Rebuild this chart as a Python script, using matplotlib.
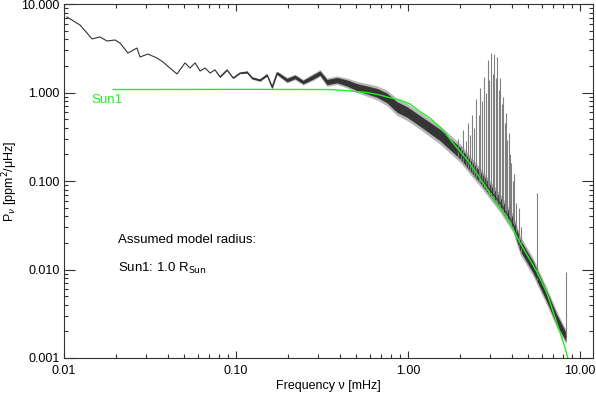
import numpy as np
import matplotlib
matplotlib.use("Agg")
import matplotlib.pyplot as plt
from matplotlib.ticker import LogLocator, FuncFormatter, NullFormatter

plt.rcParams['font.family'] = ['Liberation Sans', 'DejaVu Sans']

spec_freq = [0.01041, 0.01239, 0.01361, 0.01456, 0.01619, 0.01778, 0.01982, 0.02118,
             0.02355, 0.02655, 0.02767, 0.03077, 0.03474, 0.03766, 0.0413, 0.0454,
             0.0505, 0.0540, 0.0578, 0.0618, 0.0661, 0.0707, 0.0755, 0.0807, 0.0887,
             0.0962, 0.1055, 0.1159, 0.1239, 0.1379, 0.1515, 0.1620, 0.1731, 0.198,
             0.2204, 0.2455, 0.2808, 0.3079, 0.338, 0.3864, 0.4416, 0.505, 0.578,
             0.661, 0.755, 0.863, 0.987, 1.175, 1.536, 2.006, 2.62, 3.43, 4.07,
             4.48, 5.33, 6.43, 7.34, 8.29]
spec_power = [7.13, 5.79, 4.70, 4.03, 4.24, 3.82, 3.92, 3.62,
              2.79, 3.18, 2.52, 2.72, 2.45, 2.21, 1.89, 1.62,
              2.16, 1.89, 2.16, 1.75, 1.89, 1.66, 1.80, 1.50, 1.80,
              1.46, 1.66, 1.70, 1.46, 1.38, 1.58, 1.15, 1.66, 1.38,
              1.50, 1.31, 1.50, 1.66, 1.31, 1.38, 1.28, 1.15, 1.07,
              0.99, 0.867, 0.686, 0.602, 0.477, 0.331, 0.207, 0.111, 0.0564, 0.0335,
              0.0189, 0.0107, 0.00489, 0.00269, 0.00173]
# scatter of the noisy spectrum around the centre (dex)
spec_scatter = [0.0, 0.0, 0.0, 0.0, 0.0, 0.0, 0.0, 0.0,
                0.0, 0.0, 0.0, 0.0, 0.0, 0.0, 0.0, 0.0,
                0.0, 0.0, 0.0, 0.0, 0.0, 0.0, 0.0, 0.005, 0.005,
                0.005, 0.005, 0.01, 0.01, 0.01, 0.01, 0.015, 0.015, 0.02,
                0.02, 0.02, 0.025, 0.025, 0.03, 0.03, 0.035, 0.04, 0.045,
                0.05, 0.055, 0.06, 0.06, 0.06, 0.065, 0.065, 0.065, 0.065, 0.065,
                0.065, 0.065, 0.06, 0.06, 0.05]

# p-mode peaks
mode_freq = [1.95, 2.03, 2.09, 2.16, 2.23, 2.30, 2.36, 2.43, 2.50, 2.57, 2.63, 2.70,
             2.77, 2.84, 2.90, 2.97, 3.04, 3.10, 3.17, 3.24, 3.31, 3.38, 3.44, 3.51,
             3.58, 3.65, 3.72, 3.78, 3.85, 3.92, 3.99, 4.06, 4.13, 4.26, 4.40, 4.54,
             5.60, 8.29]
mode_top = [0.30, 0.25, 0.38, 0.28, 0.45, 0.33, 0.55, 0.40, 0.85, 0.55, 1.12, 0.80,
            1.50, 1.00, 2.30, 1.40, 2.80, 1.60, 2.70, 1.45, 2.50, 1.07, 1.45, 0.75,
            0.90, 0.45, 0.58, 0.29, 0.35, 0.20, 0.16, 0.10, 0.12, 0.056, 0.05, 0.03,
            0.073, 0.0093]

# model Sun1
model_freq = [0.0193, 0.1206, 0.352, 0.4416, 0.578, 0.688, 0.755, 0.898, 1.027,
              1.175, 1.343, 1.598, 1.826, 2.203, 2.62, 3.12, 3.76, 4.48, 5.62,
              6.43, 7.34, 8.18, 8.63]
model_power = [1.08, 1.085, 1.08, 1.05, 1.0, 0.937, 0.89, 0.823, 0.742,
               0.607, 0.515, 0.377, 0.269, 0.173, 0.108, 0.0644, 0.039, 0.0200, 0.0094,
               0.0054, 0.00247, 0.00132, 0.00089]

fig = plt.figure(figsize=(5.96, 3.93), dpi=100)
ax = fig.add_axes([64 / 596, 35 / 393, 529 / 596, 354 / 393])

f = np.array(spec_freq)
p = np.array(spec_power)
s = np.array(spec_scatter)
# outer (light) and inner (dark) spread of the noisy spectrum
ax.fill_between(f, p / 10 ** (1.6 * s), p * 10 ** (1.6 * s), color='0.6', lw=0, alpha=0.7)
ax.fill_between(f, p / 10 ** s, p * 10 ** s, color='0.12', lw=0, alpha=0.85)

base = 10 ** np.interp(np.log10(mode_freq), np.log10(f), np.log10(p) - s)
ax.vlines(mode_freq, base, mode_top, colors='0.5', lw=0.8)
ax.plot(f, p, color='0.2', lw=0.8)

ax.plot(model_freq, model_power, color='#22ee22', lw=1.0)

ax.set_xscale('log')
ax.set_yscale('log')
ax.set_xlim(0.01, 11.9)
ax.set_ylim(0.001, 10)

ax.xaxis.set_major_locator(LogLocator(base=10))
ax.yaxis.set_major_locator(LogLocator(base=10))
ax.xaxis.set_minor_locator(LogLocator(base=10, subs=np.arange(2, 10)))
ax.yaxis.set_minor_locator(LogLocator(base=10, subs=np.arange(2, 10)))
ax.xaxis.set_major_formatter(FuncFormatter(lambda v, pos: '%.2f' % v))
ax.yaxis.set_major_formatter(FuncFormatter(lambda v, pos: '%.3f' % v))
ax.xaxis.set_minor_formatter(NullFormatter())
ax.yaxis.set_minor_formatter(NullFormatter())
ax.tick_params(which='both', direction='in', top=True, right=True, labelsize=9,
               width=0.8, color='0.2', pad=5)
ax.tick_params(axis='x', which='major', length=5)
ax.tick_params(axis='y', which='major', length=8, pad=3)
ax.tick_params(which='minor', length=3)
for sp in ax.spines.values():
    sp.set_linewidth(0.8)
    sp.set_color('0.2')

ax.set_xlabel('Frequency \u03bd [mHz]', fontsize=9, labelpad=2)
ax.set_ylabel('P$_\\nu$ [ppm$^2$/\u03bcHz]', fontsize=9)
ax.yaxis.set_label_coords(-0.083, 0.5)

ax.text(0.0145, 0.82, 'Sun1', color='#22ee22', fontsize=9.5, va='center')
ax.text(0.0206, 0.0216, 'Assumed model radius:', fontsize=9.5, va='center')
ax.text(0.0206, 0.0104, 'Sun1: 1.0 R$_{\\mathrm{Sun}}$', fontsize=9.5, va='center')

fig.savefig('out.png', dpi=100)
